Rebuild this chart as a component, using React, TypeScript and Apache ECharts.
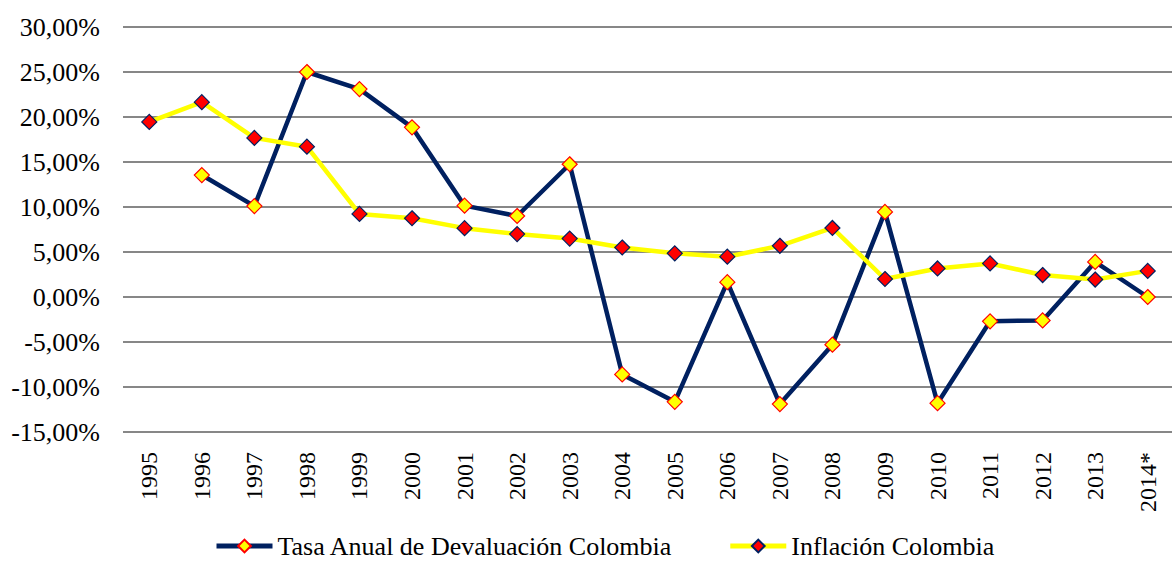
import React, { useEffect, useRef } from "react";
import * as echarts from "echarts";

const years = ["1995","1996","1997","1998","1999","2000","2001","2002","2003","2004","2005","2006","2007","2008","2009","2010","2011","2012","2013","2014*"];
const devaluacion = [null, 13.55, 10.1, 25.0, 23.1, 18.85, 10.15, 9.0, 14.75, -8.6, -11.65, 1.65, -11.9, -5.3, 9.45, -11.8, -2.7, -2.6, 3.9, 0.0];
const inflacion = [19.45, 21.65, 17.68, 16.7, 9.23, 8.75, 7.65, 6.99, 6.49, 5.5, 4.85, 4.48, 5.69, 7.67, 2.0, 3.17, 3.73, 2.44, 1.94, 2.9];
const yMin = -15;
const yMax = 30;
const yStep = 5;

const NAVY = "#002060";
const YELLOW = "#FFFF00";
const RED = "#FF0000";
const FONT = "Liberation Serif";

export default function App() {
  const ref = useRef<HTMLDivElement>(null);
  useEffect(() => {
    if (!ref.current) return;
    const chart = echarts.init(ref.current, null, { renderer: "svg" });
    chart.setOption({
      animation: false,
      backgroundColor: "#ffffff",
      textStyle: { fontFamily: FONT },
      grid: { left: 123, right: -13, top: 27, bottom: 132, containLabel: false },
      legend: {
        top: 532,
        left: 214,
        padding: 0,
        itemWidth: 56,
        itemHeight: 16,
        itemGap: 55,
        lineStyle: { width: 5 },
        textStyle: { fontFamily: FONT, fontSize: 26, color: "#000", lineHeight: 28 },
        data: ["Tasa Anual de Devaluación Colombia", "Inflación Colombia"],
      },
      graphic: [
        { type: "rect", shape: { x: 1172, y: 0, width: 20, height: 440 }, style: { fill: "#fff" }, z: 100, silent: true },
      ],
      xAxis: {
        type: "category",
        data: years,
        boundaryGap: true,
        axisLine: { show: false },
        axisTick: { show: false },
        axisLabel: {
          rotate: 90,
          margin: 20,
          fontFamily: FONT,
          fontSize: 24,
          color: "#000",
          interval: 0,
        },
      },
      yAxis: {
        type: "value",
        min: yMin,
        max: yMax,
        interval: yStep,
        axisLine: { show: false },
        axisTick: { show: false },
        splitLine: { lineStyle: { color: "#878787", width: 2 } },
        axisLabel: {
          margin: 23,
          fontFamily: FONT,
          fontSize: 26,
          color: "#000",
          formatter: (v: number) => v.toFixed(2).replace(".", ",") + "%",
        },
      },
      series: [
        {
          name: "Tasa Anual de Devaluación Colombia",
          type: "line",
          data: devaluacion,
          connectNulls: false,
          symbol: "diamond",
          symbolSize: 15,
          lineStyle: { color: NAVY, width: 4.5 },
          itemStyle: { color: YELLOW, borderColor: RED, borderWidth: 1.2 },
          z: 2,
        },
        {
          name: "Inflación Colombia",
          type: "line",
          data: inflacion,
          symbol: "diamond",
          symbolSize: 15,
          lineStyle: { color: YELLOW, width: 4.5 },
          itemStyle: { color: RED, borderColor: NAVY, borderWidth: 1.2 },
          z: 3,
        },
      ],
    });
    return () => chart.dispose();
  }, []);
  return (
    <div
      ref={ref}
      style={{ position: "fixed", left: 0, top: 0, width: 1174, height: 564, background: "#fff" }}
    />
  );
}
